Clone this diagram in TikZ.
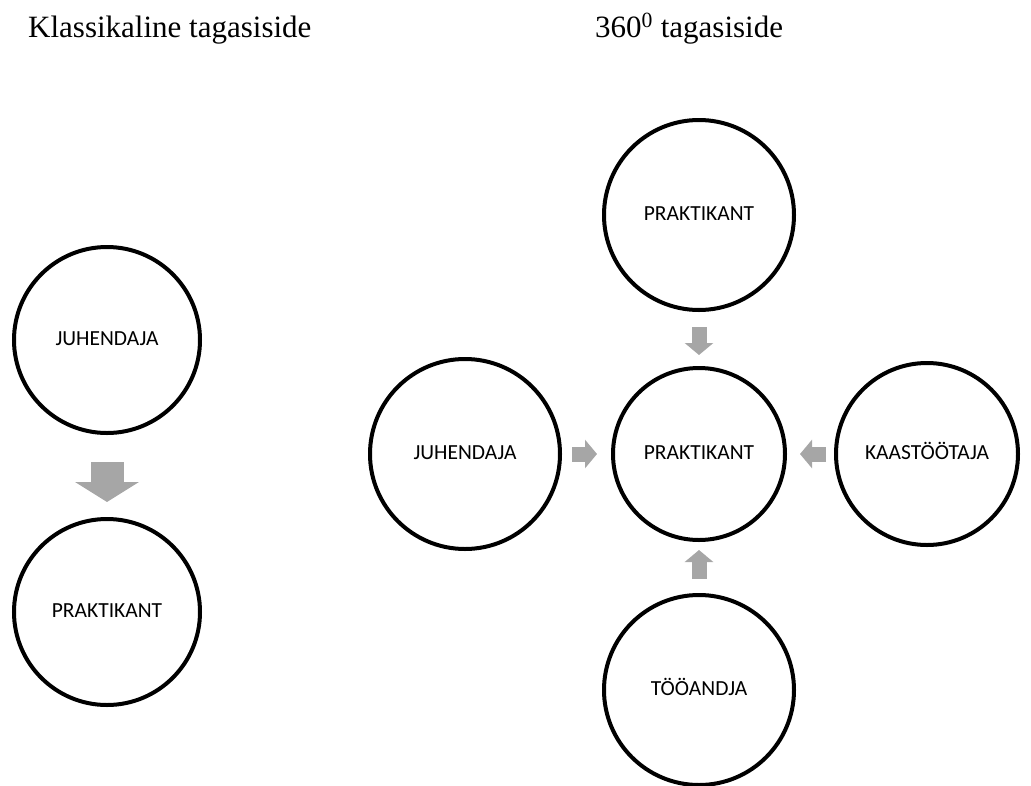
\documentclass[tikz,border=0pt]{standalone}
\usepackage{fontspec}
\setmainfont{Liberation Serif}
\newfontfamily\labelfont{Carlito}
\usepackage{tikz}
\usetikzlibrary{arrows.meta,positioning}
\definecolor{grey}{RGB}{166,166,166}
\tikzstyle{person} = [circle, draw=black, line width=4pt, fill=none, text=black, text centered, text height=15pt, text depth=4pt, font=\labelfont\fontsize{21.5}{25}\selectfont, minimum size = 190pt]
\tikzstyle{trainee} = [person, minimum size = 172pt]
\tikzstyle{heading} = [draw=none, fill=none, anchor=base west, inner sep=0pt, font=\fontsize{31}{36}\selectfont]
\tikzstyle{fbarrow} = [draw=grey, line width=15pt, -{Triangle[width=28pt,length=12pt]}]
\tikzstyle{bigarrow} = [draw=grey, line width=33pt, -{Triangle[width=63pt,length=20pt]}]

\begin{document}
\begin{tikzpicture}[x=1pt, y=1pt]
\useasboundingbox (0,0) rectangle (1031,-785);

% headings =============================
\node[heading] (klassika) at (28,-37) {Klassikaline tagasiside};
\node[heading] (ringvaade) at (595,-37) {360\textsuperscript{0} tagasiside};

% classic feedback
\node[person, minimum size=186pt] (juhL) at (107,-340) {JUHENDAJA};
\node[person, minimum size=186pt, below=82pt of juhL] (prakL) {PRAKTIKANT};

% 360 feedback
\node[trainee] (prak) at (699,-454) {PRAKTIKANT};
\node[person, above=54pt of prak] (prakT) {PRAKTIKANT};
\node[person, left=49pt of prak] (juh) {JUHENDAJA};
\node[person, minimum size=182pt, right=47pt of prak] (kaas) {KAASTÖÖTAJA};
\node[person, below=51pt of prak] (tood) {TÖÖANDJA};

% arrows
\path[bigarrow, shorten <=27pt, shorten >=15pt] (juhL) -- (prakL);

\path[fbarrow, shorten <=15pt, shorten >=11pt] (prakT) -- (prak);
\path[fbarrow, shorten <=10pt, shorten >=14pt] (juh) -- (prak);
\path[fbarrow, shorten <=8pt, shorten >=13pt] (kaas) -- (prak);
\path[fbarrow, shorten <=14pt, shorten >=8pt] (tood) -- (prak);

\end{tikzpicture}
\end{document}
